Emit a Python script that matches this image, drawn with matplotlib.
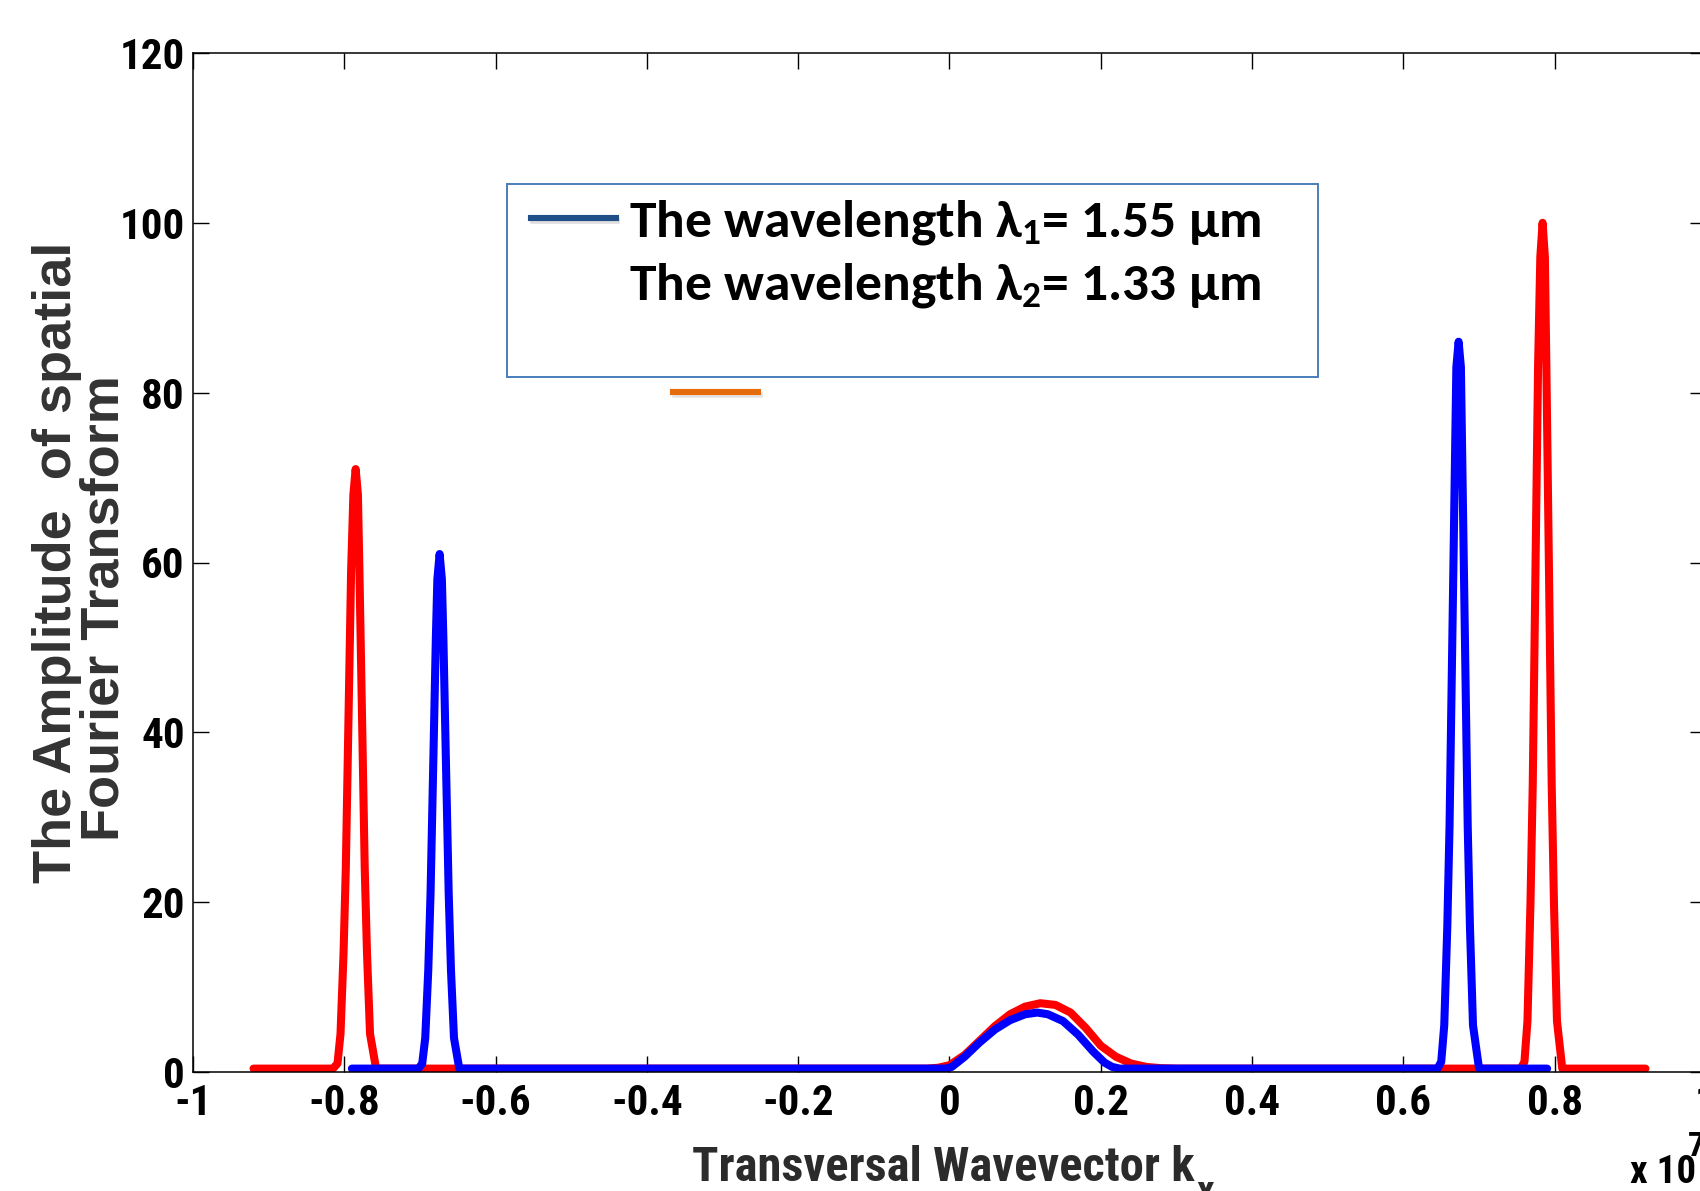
import matplotlib
matplotlib.use("Agg")
import matplotlib.pyplot as plt
from matplotlib.patches import Rectangle
from matplotlib.lines import Line2D

# values (kx in units of 1e7)
red_kx = [-0.92, -0.815, -0.809, -0.805, -0.801, -0.798, -0.794, -0.791, -0.788, -0.785, -0.782, -0.780, -0.777,
          -0.773, -0.770, -0.766, -0.758,
          -0.03, -0.015, 0.0, 0.02, 0.04, 0.06, 0.08, 0.10, 0.12, 0.14, 0.16, 0.18, 0.20, 0.22, 0.24, 0.26, 0.28, 0.30,
          0.755, 0.760, 0.764, 0.768, 0.771, 0.775, 0.778, 0.781, 0.784, 0.787, 0.789, 0.792, 0.796, 0.799, 0.803, 0.810, 0.92]
red_amp = [0.4, 0.4, 1.0, 4.5, 14, 24, 44, 59, 68, 71, 68, 59, 44,
           24, 14, 4.5, 0.4,
           0.4, 0.5, 0.8, 2.0, 3.7, 5.4, 6.8, 7.7, 8.1, 7.9, 7.0, 5.2, 3.1, 1.8, 1.0, 0.6, 0.45, 0.4,
           0.4, 1.2, 6, 20, 34, 62, 83, 96, 100, 96, 83, 62, 34, 20, 6, 0.4, 0.4]

blue_kx = [-0.79, -0.702, -0.697, -0.693, -0.689, -0.686, -0.682, -0.679, -0.677, -0.674, -0.671, -0.669, -0.666,
           -0.662, -0.659, -0.655, -0.648,
           -0.005, 0.003, 0.02, 0.04, 0.06, 0.08, 0.10, 0.116, 0.13, 0.15, 0.17, 0.19, 0.205, 0.215, 0.225,
           0.645, 0.650, 0.654, 0.658, 0.661, 0.665, 0.668, 0.670, 0.673, 0.676, 0.678, 0.681, 0.685, 0.688, 0.692, 0.700, 0.79]
blue_amp = [0.4, 0.4, 1.0, 4.0, 12, 21, 38, 51, 58, 61, 58, 51, 38,
            21, 12, 4.0, 0.4,
            0.4, 0.6, 1.8, 3.5, 5.0, 6.1, 6.8, 7.0, 6.8, 6.0, 4.4, 2.4, 1.1, 0.6, 0.4,
            0.4, 1.2, 5.5, 17, 29, 53, 71, 83, 86, 83, 71, 53, 29, 17, 5.5, 0.4, 0.4]

x_ticks = [-1, -0.8, -0.6, -0.4, -0.2, 0, 0.2, 0.4, 0.6, 0.8, 1]
x_labels = ["-1", "-0.8", "-0.6", "-0.4", "-0.2", "0", "0.2", "0.4", "0.6", "0.8", "1"]
y_ticks = [0, 20, 40, 60, 80, 100, 120]

legend_lines = [r"The wavelength $\lambda_1$= 1.55 $\mu$m", r"The wavelength $\lambda_2$= 1.33 $\mu$m"]

plt.rcParams["mathtext.fontset"] = "custom"
plt.rcParams["mathtext.rm"] = "Carlito:bold"
plt.rcParams["mathtext.it"] = "Carlito:bold"
plt.rcParams["mathtext.bf"] = "Carlito:bold"

narrow = ["Roboto Condensed", "PT Sans Narrow", "Barlow Semi Condensed", "DejaVu Sans"]
W, H = 1700, 1191

fig = plt.figure(figsize=(17, 11.91), dpi=100)
# axes run past the right edge of the picture, as in the original
ax = fig.add_axes([193 / W, (H - 1072) / H, 1513 / W, 1019 / H])

kw = dict(lw=5.8, solid_joinstyle="round", solid_capstyle="round")
ax.plot(red_kx, red_amp, color="#ff0000", **kw)
ax.plot(blue_kx, blue_amp, color="#0000ff", **kw)

ax.set_xlim(-1, 1)
ax.set_ylim(0, 120)
ax.set_xticks(x_ticks)
ax.set_xticklabels(x_labels)
ax.set_yticks(y_ticks)
ax.tick_params(direction="in", length=11.5, width=1, top=True, right=True)
ax.tick_params(axis="x", pad=8)
ax.tick_params(axis="y", pad=6)
for lab in ax.get_xticklabels() + ax.get_yticklabels():
    lab.set_family(narrow)
    lab.set_fontweight("bold")
    lab.set_fontsize(31)
for s in ax.spines.values():
    s.set_linewidth(1.1)

# axis labels
xl = fig.text(692 / W, 1 - 1181 / H, "Transversal Wavevector k", family=narrow, fontweight="bold",
              fontsize=35, color="#2b2b2b", ha="left", va="baseline")
ax.annotate("x", xy=(1, 1 - 1174 / H), xycoords=(xl, "figure fraction"), xytext=(1, 0),
            textcoords="offset points", family=narrow, fontweight="bold", fontsize=28,
            color="#2b2b2b", ha="left", va="top", annotation_clip=False)
fig.text(57 / W, 1 - 562 / H, "The Amplitude  of spatial", family="Liberation Sans", fontweight="bold",
         fontsize=39, color="#333333", rotation=90, ha="center", va="center")
fig.text(105 / W, 1 - 608 / H, "Fourier Transform", family="Liberation Sans", fontweight="bold",
         fontsize=39, color="#333333", rotation=90, ha="center", va="center")

# exponent label
fig.text(1630 / W, 1 - 1183 / H, "x 10", family=narrow, fontweight="bold", fontsize=28,
         ha="left", va="baseline")
fig.text(1688 / W, 1 - 1156 / H, "7", family=narrow, fontweight="bold", fontsize=24,
         ha="left", va="baseline")

# legend box drawn over the figure
fig.patches.append(Rectangle((507 / W, 1 - 377 / H), (1318 - 507) / W, (377 - 184) / H,
                             transform=fig.transFigure, fill=False, ec="#4a7ebb", lw=1.4))
fig.lines.append(Line2D([533 / W, 617 / W], [1 - 221 / H] * 2, transform=fig.transFigure,
                        color="#cfcfcf", lw=4, alpha=0.7))
fig.lines.append(Line2D([531 / W, 616 / W], [1 - 218 / H] * 2, transform=fig.transFigure,
                        color="#1f4e89", lw=4.4))
fig.lines.append(Line2D([675 / W, 760 / W], [1 - 395 / H] * 2, transform=fig.transFigure,
                        color="#d8d8d8", lw=4, alpha=0.7))
fig.lines.append(Line2D([673 / W, 758 / W], [1 - 392 / H] * 2, transform=fig.transFigure,
                        color="#e46c0a", lw=4.4))
for i, txt in enumerate(legend_lines):
    fig.text(629 / W, 1 - (236 + 64 * i) / H, txt, family="Carlito",
             fontweight="bold", fontsize=38.5, ha="left", va="baseline")

fig.savefig("out.png", dpi=100)
